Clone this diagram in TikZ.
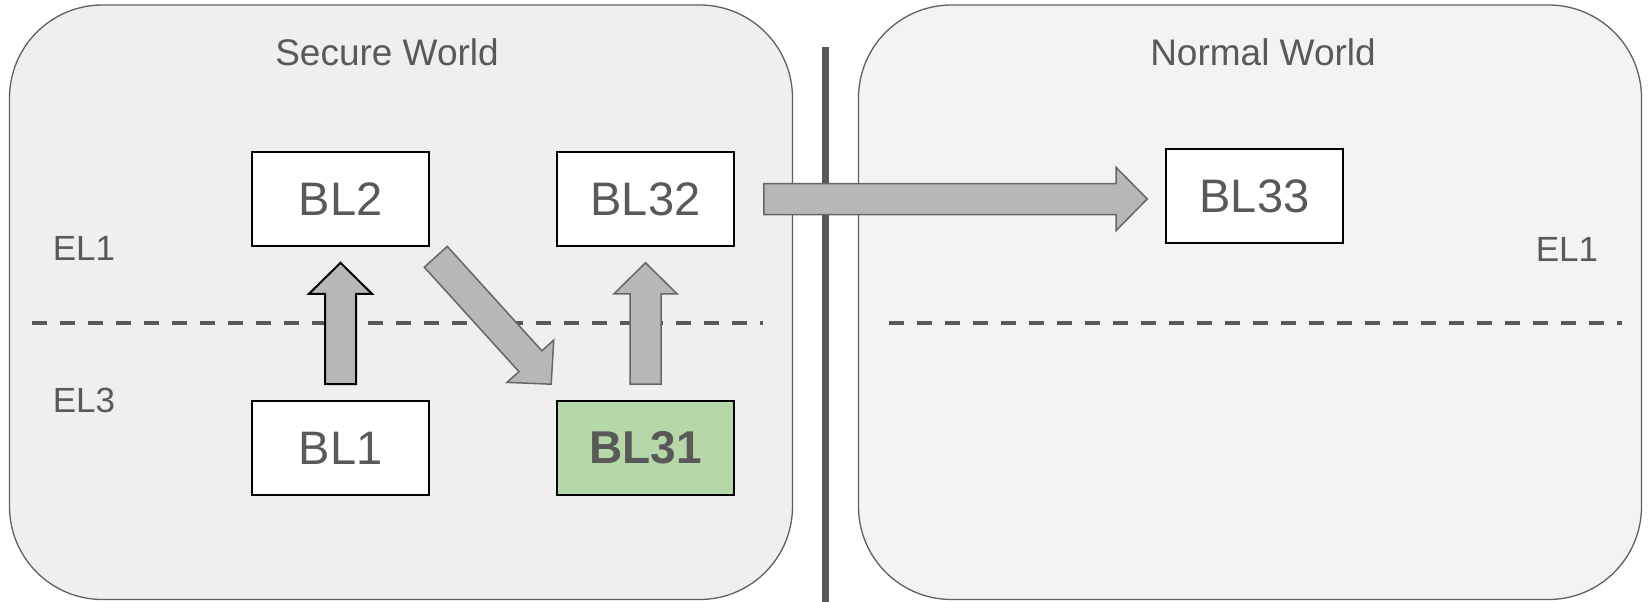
\documentclass[tikz,border=0pt]{standalone}
\usepackage{fontspec}
\setmainfont{Liberation Sans}
\usetikzlibrary{calc}

\definecolor{ink}{HTML}{595959}
\definecolor{rim}{HTML}{5F5F5F}
\definecolor{securefill}{HTML}{EFEFEF}
\definecolor{normalfill}{HTML}{F3F3F3}
\definecolor{arrowfill}{HTML}{B7B7B7}
\definecolor{arrowrim}{HTML}{666666}
\definecolor{activefill}{HTML}{B6D7A8}

% Block arrow from coordinate #1 to coordinate #2 (shaft 31pt, head 63pt x 31pt)
\newcommand\blockarrow[3][]{%
  \coordinate (ba-h) at ($(#3)!31pt!(#2)$);
  \draw[blockarr,#1]
    ($(#2)!15.5pt!90:(#3)$) --
    ($(ba-h)!15.5pt!90:(#3)$) --
    ($(ba-h)!31.5pt!90:(#3)$) --
    (#3) --
    ($(ba-h)!31.5pt!-90:(#3)$) --
    ($(ba-h)!15.5pt!-90:(#3)$) --
    ($(#2)!15.5pt!-90:(#3)$) -- cycle;
}

\begin{document}
\begin{tikzpicture}[x=1pt,y=-1pt,
  panel/.style={draw=rim, line width=1.3pt, rounded corners=93pt,
    rectangle, inner sep=0pt, minimum width=783pt, minimum height=594.5pt},
  title/.style={text=ink, font=\fontsize{37}{44}\selectfont, inner sep=0pt},
  level/.style={text=ink, font=\fontsize{35}{42}\selectfont, inner sep=0pt},
  stagebox/.style={draw=black, line width=1.6pt, fill=white, text=ink,
    minimum width=177pt, minimum height=94pt, inner sep=0pt,
    font=\fontsize{47}{56}\selectfont},
  activebox/.style={stagebox, fill=activefill, font=\fontsize{46}{55}\selectfont\bfseries},
  elsplit/.style={draw=ink, line width=4pt, dash pattern=on 15pt off 13pt},
  divider/.style={draw=ink, line width=7.7pt},
  blockarr/.style={draw=arrowrim, line width=1.5pt, fill=arrowfill, line join=miter}
]
\useasboundingbox (0,0) rectangle (1650,602);

% the two worlds
\node[panel, fill=securefill] (secure) at (401,302.25) {};
\node[panel, fill=normalfill] (normal) at (1250,302.25) {};
\draw[divider] (825.5,47) -- (825.5,602);

\node[title] (sectitle) at (387,52) {Secure World};
\node[title] (nortitle) at (1263,52) {Normal World};

% exception level labels and boundaries
\node[level] (el1s) at (84,248) {EL1};
\node[level] (el3s) at (84,400) {EL3};
\node[level] (el1n) at (1567,249) {EL1};
\draw[elsplit] (31.6,323) -- (763,323);
\draw[elsplit] (888.5,323) -- (1622,323);

% boot stages
\node[stagebox] (bl2) at (340.5,199) {BL2};
\node[stagebox] (bl32) at (645.5,199) {BL32};
\node[stagebox] (bl1) at (340.5,448) {BL1};
\node[activebox] (bl31) at (645.5,448) {BL31};
\node[stagebox] (bl33) at (1254.5,196) {BL33};

% arrow end points
\coordinate (a1s) at ([yshift=16pt]bl1.north);
\coordinate (a1e) at ([yshift=-16pt]bl2.south);
\coordinate (a2s) at ([yshift=16pt]bl31.north);
\coordinate (a2e) at ([yshift=-16pt]bl32.south);
\coordinate (a3s) at ([shift={(6pt,-10pt)}]bl2.south east);
\coordinate (a3e) at ([shift={(-5pt,16pt)}]bl31.north west);
\coordinate (a4s) at ([xshift=29pt]bl32.east);
\coordinate (a4e) at ($(bl33.west |- bl32.east)+(-18pt,0pt)$);

% boot flow
\blockarrow[draw=black, line width=2pt]{a1s}{a1e}
\blockarrow{a2s}{a2e}
\blockarrow{a3s}{a3e}
\blockarrow{a4s}{a4e}
\end{tikzpicture}
\end{document}
